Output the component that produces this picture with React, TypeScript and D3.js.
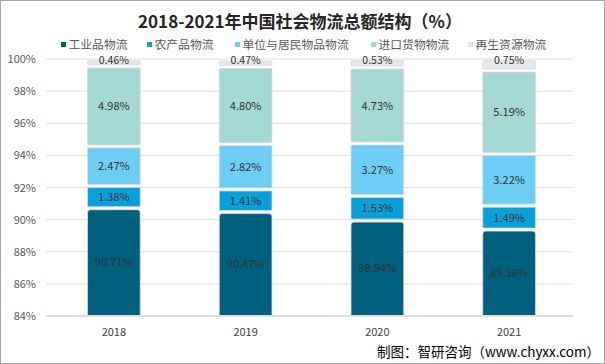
import React from "react";
import * as d3 from "d3";

const years = ["2018", "2019", "2020", "2021"];
const seriesNames = ["工业品物流", "农产品物流", "单位与居民物品物流", "进口货物物流", "再生资源物流"];
const industrial = [90.71, 90.47, 89.94, 89.38];
const agricultural = [1.38, 1.41, 1.53, 1.49];
const resident = [2.47, 2.82, 3.27, 3.22];
const imports = [4.98, 4.8, 4.73, 5.19];
const recycled = [0.46, 0.47, 0.53, 0.75];
const yTicks = [84, 86, 88, 90, 92, 94, 96, 98, 100];
const colors = ["#02607f", "#08a0d8", "#6dcdf4", "#a3d8d4", "#e2e8ec"];

const W = 605;
const H = 364;
const FONT = "'Noto Sans CJK SC', 'Noto Sans', sans-serif";

export default function App() {
  const seriesValues = [industrial, agricultural, resident, imports, recycled];
  const x = d3.scaleBand().domain(years).range([48, 575]).paddingInner(0.6).paddingOuter(0.3);
  const y = d3.scaleLinear().domain([84, 100]).range([316, 59]);
  const data = years.map((yr, i) => {
    const row: any = { year: yr };
    seriesNames.forEach((s, k) => (row[s] = seriesValues[k][i]));
    return row;
  });
  const stack = d3.stack<any>().keys(seriesNames)(data);
  const legendX = [61, 147, 235, 371, 468];

  return (
    <svg width={W} height={H} style={{ position: "absolute", left: 0, top: 0, background: "#fff" }} fontFamily={FONT}>
      <defs>
        <clipPath id="plot">
          <rect x={40} y={40} width={560} height={275} />
        </clipPath>
      </defs>
      <rect x={0.5} y={0.5} width={W - 1} height={H - 1} fill="#fff" stroke="#a6a6a6" />
      <text x={300} y={28} textAnchor="middle" fontSize={17} fontWeight="bold" fill="#262626">
        2018-2021年中国社会物流总额结构（%）
      </text>
      {seriesNames.map((s, k) => (
        <g key={s}>
          <rect x={legendX[k]} y={42} width={5} height={5} fill={colors[k]} />
          <text x={legendX[k] + 7.5} y={48.5} fontSize={11.8} fill="#595959">{s}</text>
        </g>
      ))}
      {yTicks.map((t) => (
        <g key={t}>
          <line x1={46} x2={573} y1={y(t)} y2={y(t)} stroke={t === 84 ? "#bfbfbf" : "#e0e0e0"} strokeWidth={1} />
          <text x={36} y={y(t) + 4} textAnchor="end" fontSize={11} fill="#595959">{t}%</text>
        </g>
      ))}
      <g clipPath="url(#plot)">
        {stack.map((layer, k) =>
          layer.map((d, i) => {
            const top = y(Math.min(d[1], 100));
            const bot = y(d[0] < 84 ? 83.8 : d[0]);
            const bx = x(years[i])!;
            const bw = x.bandwidth();
            return (
              <rect
                key={k + "-" + i}
                x={bx}
                y={top + 1.5}
                width={bw}
                height={Math.max(0, bot - top - 3)}
                rx={k === 0 ? 3 : 1}
                fill={colors[k]}
                stroke="#d9d9d9"
                strokeWidth={0.8}
              />
            );
          })
        )}
      </g>
      {stack.map((layer, k) =>
        layer.map((d, i) => {
          const v = seriesValues[k][i];
          const mid = k === 4 ? y(100) + 4.5 : (y(d[1]) + y(Math.max(d[0], 84))) / 2 + 4;
          return (
            <text key={"l" + k + i} x={x(years[i])! + x.bandwidth() / 2} y={mid} textAnchor="middle" fontSize={k === 4 ? 10.5 : 11} fill="#333">
              {v.toFixed(2)}%
            </text>
          );
        })
      )}
      {years.map((yr) => (
        <text key={yr} x={x(yr)! + x.bandwidth() / 2} y={336} textAnchor="middle" fontSize={11} fill="#404040">{yr}</text>
      ))}
      <text x={600} y={357} textAnchor="end" fontSize={13.5} fill="#000">制图：智研咨询（www.chyxx.com）</text>
    </svg>
  );
}
